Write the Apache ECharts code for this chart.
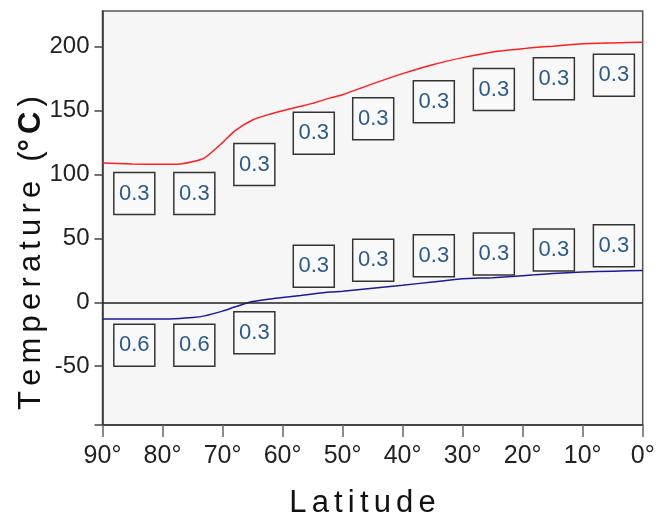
<!DOCTYPE html>
<html>
<head>
<meta charset="utf-8">
<script src="https://cdn.jsdelivr.net/npm/echarts@6/dist/echarts.min.js"></script>
<style>
html,body{margin:0;padding:0;background:#fff;}
#chart{width:665px;height:515px;}
</style>
</head>
<body>
<div id="chart"></div>
<script>
// Data
const latitudes = [90,85,80,78,75,73,70,68,65,62,60,57,55,52,50,45,40,35,30,25,20,18,15,10,5,0];
const upperTemps = [109,108.3,108,108,110,113,125,134,142.7,147.4,150,153.4,155.7,160,162.5,171,179,186,191.5,196,198.5,199.5,200.5,202.3,203,203.6];
const lowerTemps = [-13,-13,-13,-12.8,-11.9,-10.6,-6.9,-3.7,0.6,2.7,3.8,5.3,6.5,8,8.6,11.1,13.4,15.9,18.4,19.3,20.9,21.5,22.5,23.8,24.4,24.9];
const boxLatitudes = [84.7,74.7,64.7,54.8,44.9,34.8,24.8,14.8,4.8];
const upperBoxTemps = [85.1,85.1,107.9,132.3,143.6,157,166.6,174.9,177.7];
const upperBoxTexts = ['0.3','0.3','0.3','0.3','0.3','0.3','0.3','0.3','0.3'];
const lowerBoxTemps = [-33.6,-33.6,-23.8,28.3,33,36.5,37.9,40.9,44.3];
const lowerBoxTexts = ['0.6','0.6','0.3','0.3','0.3','0.3','0.3','0.3','0.3'];
const yLabelValues = [-50,0,50,100,150,200];
const yTickValues = [-96,-50,0,50,100,150,200];

const FONT = '"Liberation Sans", Arial, Helvetica, sans-serif';
const chart = echarts.init(document.getElementById('chart'), null, {renderer:'canvas'});

function pairs(xs, ys){ return xs.map((x,i)=>[x, ys[i]]); }
function boxes(xs, ys, ts){ return xs.map((x,i)=>({value:[x, ys[i]], label:{formatter: ts[i]}})); }

const boxStyle = {
  type:'scatter', symbol:'rect', symbolSize:[41,42], z:5,
  itemStyle:{color:'#f9f9f9', borderColor:'#333', borderWidth:1.5, opacity:1},
  label:{show:true, position:'inside', color:'#2b5b8c', fontSize:22, fontFamily:FONT},
  emphasis:{disabled:true}, silent:true
};

const sp = '\u2006';
function spaced(s){ return s.split('').join(sp); }

chart.setOption({
  animation:false,
  backgroundColor:'#fff',
  grid:{left:102.5, right:22.3, top:11, bottom:90, show:true, backgroundColor:'#f6f6f6', borderColor:'#555', borderWidth:1.5},
  xAxis:{
    type:'value', min:0, max:90, interval:10, inverse:true,
    axisLine:{show:true, onZero:false, lineStyle:{color:'#333', width:1.5}},
    axisTick:{show:true, length:12, lineStyle:{color:'#666', width:1.5}},
    splitLine:{show:false},
    axisLabel:{margin:19, color:'#222', fontSize:25, fontFamily:FONT, formatter: v => v + '°'}
  },
  yAxis:{
    type:'value', min:-96, max:228,
    axisLine:{show:true, onZero:false, lineStyle:{color:'#333', width:1.5}},
    axisTick:{show:true, inside:false, length:8, customValues:yTickValues, lineStyle:{color:'#444', width:1.5}},
    splitLine:{show:false},
    axisLabel:{margin:13, color:'#222', fontSize:24, fontFamily:FONT, customValues:yLabelValues}
  },
  graphic:[
    {type:'text', x:31, y:253, rotation:Math.PI/2, z:10,
     style:{text:'{a|'+spaced('Temperature')+sp+' '+sp+'(}{b|°'+sp+'C}{a|'+sp+')}', textAlign:'center', textVerticalAlign:'middle',
       rich:{a:{fontSize:31, fontFamily:FONT, fill:'#111'}, b:{fontSize:31, fontFamily:FONT, fontWeight:'bold', fill:'#111'}}}},
    {type:'text', x:362.5, y:503, z:10,
     style:{text:spaced('Latitude'), font:'31px '+FONT, fill:'#111', textAlign:'center', textVerticalAlign:'middle'}}
  ],
  series:[
    {type:'line', data:pairs(latitudes, upperTemps), smooth:0.2, symbol:'none', lineStyle:{color:'#ff1f1f', width:1.5}, z:3, silent:true},
    {type:'line', data:pairs(latitudes, lowerTemps), smooth:0.2, symbol:'none', lineStyle:{color:'#1a1a9c', width:1.5}, z:3, silent:true,
     markLine:{silent:true, symbol:'none', label:{show:false}, lineStyle:{color:'#222', width:1.5, type:'solid'}, data:[{yAxis:0}]}},
    Object.assign({}, boxStyle, {data:boxes(boxLatitudes, upperBoxTemps, upperBoxTexts)}),
    Object.assign({}, boxStyle, {data:boxes(boxLatitudes, lowerBoxTemps, lowerBoxTexts)})
  ]
});
</script>
</body>
</html>
